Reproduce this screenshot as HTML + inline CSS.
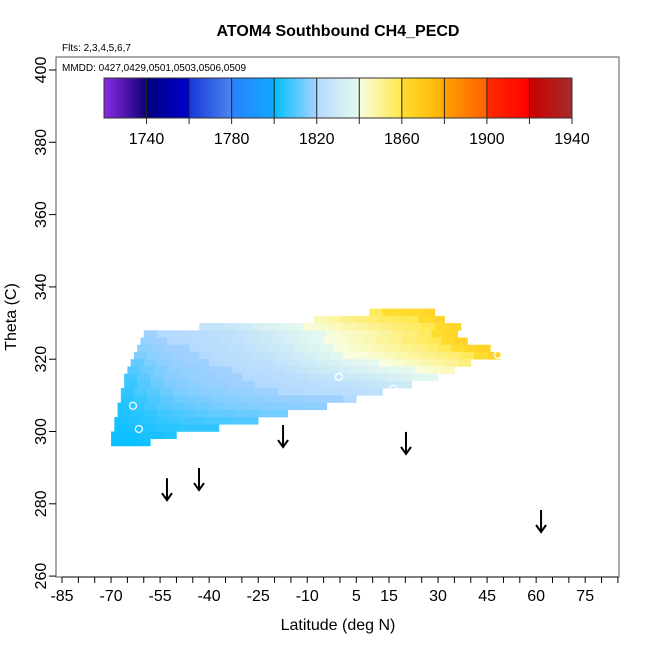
<!DOCTYPE html>
<html><head><meta charset="utf-8"><style>
body{margin:0;background:#fff}
svg text{font-family:"Liberation Sans",sans-serif}
</style></head><body>
<svg id="c" width="650" height="650" xmlns="http://www.w3.org/2000/svg">
<text x="338" y="36" text-anchor="middle" font-size="16" font-weight="bold">ATOM4 Southbound CH4_PECD</text>
<text x="62" y="51" font-size="10">Flts: 2,3,4,5,6,7</text>
<rect x="56" y="57" width="563" height="520" fill="none" stroke="#555" stroke-width="1"/>
<text x="62" y="71" font-size="10">MMDD: 0427,0429,0501,0503,0506,0509</text>
<g id="cells"></g>
<g id="marks"></g>
<g id="axes"></g>
<g id="cbar"></g>
<text x="338" y="630" text-anchor="middle" font-size="16">Latitude (deg N)</text>
<text transform="translate(16,317) rotate(-90)" text-anchor="middle" font-size="16">Theta (C)</text>
</svg>
<script>
const xTicks=[-85,-70,-55,-40,-25,-10,5,15,30,45,60,75];
const yTicks=[260,280,300,320,340,360,380,400];
const cbTicks=[1740,1780,1820,1860,1900,1940];
const rowTheta=[332,330,328,326,324,322,320,318,316,314,312,310,308,306,304,302,300,298,296];
const rowStart=[9,-8,-43,-60,-61,-62,-63,-64,-65,-66,-66,-67,-67,-68,-68,-69,-69,-70,-70];
const rowValues=[
[1858,1860,1861,1862,1863],
[1845,1848,1851,1853,1855,1857,1858,1859,1861,1863],
[1826,1827,1828,1830,1833,1835,1837,1839,1841,1843,1845,1847,1849,1851,1853,1855,1857,1859,1861,1863],
[1819,1820,1820,1821,1822,1823,1824,1826,1828,1830,1833,1835,1837,1839,1841,1843,1845,1847,1849,1852,1854,1857,1860,1863],
[1818,1819,1820,1820,1821,1822,1823,1825,1827,1829,1831,1833,1836,1838,1840,1842,1844,1846,1849,1851,1854,1856,1859,1862,1864],
[1817,1818,1819,1819,1820,1821,1822,1823,1825,1827,1829,1831,1834,1836,1838,1840,1842,1844,1846,1848,1850,1852,1855,1858,1860,1863,1865],
[1815,1817,1818,1819,1819,1820,1821,1822,1823,1825,1827,1829,1831,1834,1836,1838,1840,1841,1843,1845,1847,1849,1851,1853,1855,1858,1861,1864],
[1812,1815,1817,1818,1819,1819,1820,1821,1822,1823,1824,1826,1828,1830,1832,1834,1836,1838,1839,1840,1842,1844,1846,1848,1850,1853],
[1810,1813,1815,1817,1818,1818,1819,1819,1820,1821,1822,1823,1825,1827,1829,1830,1832,1834,1835,1837,1838,1839,1841,1843,1845],
[1808,1811,1814,1816,1817,1818,1818,1819,1819,1820,1820,1821,1822,1823,1825,1826,1828,1829,1830,1831,1833,1835,1837,1839],
[1807,1810,1813,1815,1816,1817,1818,1818,1819,1819,1820,1820,1821,1821,1822,1823,1824,1825,1826,1827,1828,1830],
[1806,1809,1811,1813,1815,1816,1817,1817,1818,1818,1819,1819,1820,1820,1821,1821,1822,1822,1823,1824],
[1805,1807,1809,1811,1813,1814,1815,1816,1816,1817,1817,1818,1818,1818,1819,1819,1819,1820],
[1804,1806,1808,1810,1811,1812,1813,1814,1815,1815,1816,1816,1816,1817,1817,1817],
[1804,1805,1806,1808,1809,1810,1811,1812,1812,1813,1813,1814,1814],
[1803,1804,1805,1806,1807,1808,1808,1809,1809,1810,1810],
[1802,1803,1804,1805,1805,1806,1806,1806],
[1802,1802,1803,1803,1804],
[1801,1801,1802]];
const circleLat=[-63.3,-61.5,-0.3,16.2,48.3];
const circleTheta=[307.1,300.7,315.1,311.8,321.2];
const arrowLat=[-52.9,-43.1,-17.4,20.2,61.5];
const arrowTheta=[281,283.8,295.7,293.8,272.2];
const NS='http://www.w3.org/2000/svg';
const X=l=>62+(l+85)*3.27;
const Y=t=>70+(400-t)*3.615;
const CB=v=>104+(v-1720)*(468/220);
const segs=[[1720,'#8a2be2','#10007a'],[1740,'#000080','#0000cd'],[1760,'#1838d8','#4a86f0'],[1780,'#2a80ff','#10aaff'],[1800,'#00bfff','#a6d2ff'],[1820,'#b4daff','#e6faee'],[1840,'#f8fde0','#ffe84a'],[1860,'#ffdd30','#ffb000'],[1880,'#ffa000','#ff6000'],[1900,'#ff2a00','#ff0000'],[1920,'#cd0000','#a52a2a']];
function hx(h){return [1,3,5].map(i=>parseInt(h.substr(i,2),16));}
function col(v){let s=segs[0];for(const g of segs)if(v>=g[0])s=g;const f=Math.max(0,Math.min(1,(v-s[0])/20));const a=hx(s[1]),b=hx(s[2]);return 'rgb('+a.map((c,i)=>Math.round(c+(b[i]-c)*f)).join(',')+')';}
function mk(tag,at,parent){const e=document.createElementNS(NS,tag);for(const k in at)e.setAttribute(k,at[k]);parent.appendChild(e);return e;}
const cells=document.getElementById('cells');
rowTheta.forEach((t,r)=>{rowValues[r].forEach((v,i)=>{const l=rowStart[r]+i*4;
const e=mk('rect',{x:X(l),y:Y(t+2),width:X(l+4)-X(l)+0.3,height:Y(t)-Y(t+2)+0.3,fill:col(v)},cells);

});});
const marks=document.getElementById('marks');
circleLat.forEach((l,i)=>{const e=mk('circle',{cx:X(l),cy:Y(circleTheta[i]),r:3.5,fill:'none',stroke:'#fff','stroke-width':1.2},marks);

});
arrowLat.forEach((l,i)=>{const g=mk('g',{stroke:'#000','stroke-width':2,fill:'none'},marks);


const x=X(l),y=Y(arrowTheta[i]);
mk('line',{x1:x,y1:y-22,x2:x,y2:y},g);
mk('polyline',{points:(x-5)+','+(y-7)+' '+x+','+y+' '+(x+5)+','+(y-7)},g);});
const ax=document.getElementById('axes');
for(let l=-85;l<=85;l+=5){const e=mk('line',{x1:X(l),x2:X(l),y1:577,y2:583,stroke:'#000'},ax);

}
mk('line',{x1:X(-85),x2:X(85),y1:577,y2:577,stroke:'#000'},ax);
xTicks.forEach(l=>{const t=mk('text',{x:X(l),y:601,'text-anchor':'middle','font-size':16},ax);t.textContent=l;

});
yTicks.forEach(v=>{const e=mk('line',{x1:49,x2:56,y1:Y(v),y2:Y(v),stroke:'#000'},ax);


const t=mk('text',{transform:'translate(46,'+Y(v)+') rotate(-90)','text-anchor':'middle','font-size':16},ax);t.textContent=v;

});
const cb=document.getElementById('cbar');
for(let v=1720;v<1940;v+=1){mk('rect',{x:CB(v),y:78,width:CB(v+1)-CB(v)+0.4,height:40,fill:col(v+0.5)},cb);}
for(let v=1740;v<1940;v+=20){mk('line',{x1:CB(v),x2:CB(v),y1:78,y2:124,stroke:'#222'},cb);}
mk('rect',{x:CB(1720),y:78,width:CB(1940)-CB(1720),height:40,fill:'none',stroke:'#333'},cb);
mk('line',{x1:CB(1940),x2:CB(1940),y1:118,y2:124,stroke:'#222'},cb);
cbTicks.forEach(v=>{const t=mk('text',{x:CB(v),y:144,'text-anchor':'middle','font-size':16},cb);t.textContent=v;

});
</script>
</body></html>
